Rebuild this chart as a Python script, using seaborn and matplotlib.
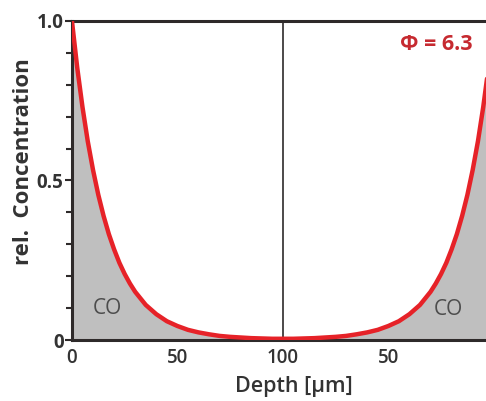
import matplotlib
matplotlib.use("Agg")
import matplotlib.pyplot as plt
import seaborn as sns
import pandas as pd
from matplotlib.ticker import MultipleLocator

# Data (depth across the 200 µm section, relative concentration)
depth = [0, 2.5, 5, 7.5, 10, 12.5, 15, 17.5, 20, 22.5, 25, 27.5, 30, 35, 40, 45, 50,
         55, 60, 65, 70, 75, 80, 85, 90, 95, 100,
         105, 110, 115, 120, 125, 130, 135, 140, 145, 150, 155, 160, 165, 170,
         172.5, 175, 177.5, 180, 182.5, 185, 187.5, 190, 192.5, 195, 197.5, 200]
concentration = [1.0, 0.854, 0.730, 0.623, 0.533, 0.455, 0.389, 0.332, 0.284, 0.242,
                 0.207, 0.177, 0.151, 0.110, 0.081, 0.059, 0.044,
                 0.032, 0.024, 0.018, 0.013, 0.010, 0.008, 0.006, 0.005, 0.004, 0.004,
                 0.004, 0.005, 0.006, 0.008, 0.010, 0.013, 0.018, 0.024, 0.032, 0.044,
                 0.059, 0.081, 0.110, 0.151,
                 0.177, 0.207, 0.242, 0.284, 0.332, 0.389, 0.455, 0.533, 0.623, 0.730,
                 0.854, 1.0]
xtick_pos = [0, 50, 100, 150, 200]
xtick_labels = ["0", "50", "100", "50", "0"]
ytick_pos = [0, 0.5, 1.0]
ytick_labels = ["0", "0.5", "1.0"]
phi_label = "\u03a6 = 6.3"
region_label = "CO"

df = pd.DataFrame({"depth": depth, "conc": concentration})

sns.set_style("white")
plt.rcParams["font.family"] = ["Open Sans", "DejaVu Sans"]

fig = plt.figure(figsize=(4.86, 4.01), dpi=100)
ax = fig.add_axes([0.148, 0.152, 0.868, 0.796])

red = "#e62228"
dark = "#2e2a2a"

ax.fill_between(df["depth"], df["conc"], 0, color="#bfbfbf", linewidth=0, zorder=1)
sns.lineplot(data=df, x="depth", y="conc", ax=ax, color=red, linewidth=3.2,
             zorder=3, sort=False)
ax.axvline(100, ymin=0, ymax=1, color=dark, linewidth=1.2, zorder=2)

ax.set_xlim(0, 200)
ax.set_ylim(0, 1.0)
ax.set_xticks(xtick_pos)
ax.set_xticklabels(xtick_labels)
ax.set_yticks(ytick_pos)
ax.set_yticklabels(ytick_labels)
ax.yaxis.set_minor_locator(MultipleLocator(0.1))

for lab in ax.get_xticklabels():
    lab.set_fontsize(13.5)
    lab.set_fontweight("semibold")
    lab.set_color("#333333")
for lab in ax.get_yticklabels():
    lab.set_fontsize(13.5)
    lab.set_fontweight("bold")
    lab.set_color("#333333")

ax.tick_params(axis="x", which="both", length=0, pad=6)
ax.tick_params(axis="y", which="major", length=5, width=1.5, color=dark, pad=1,
               direction="out", left=True)
ax.tick_params(axis="y", which="minor", length=4, width=1.5, color=dark,
               direction="out", left=True)

for side in ["top", "left", "bottom"]:
    ax.spines[side].set_visible(True)
    ax.spines[side].set_color(dark)
    ax.spines[side].set_linewidth(2.2)
ax.spines["right"].set_visible(False)

ax.set_xlabel("Depth [\u03bcm]", fontsize=15.5, fontweight="semibold", color="#333333")
ax.xaxis.set_label_coords(0.526, -0.112)
ax.set_ylabel("rel.  Concentration", fontsize=16, fontweight="bold", color="#333333")
ax.yaxis.set_label_coords(-0.09, 0.56)

ax.text(190, 0.925, phi_label, color="#c62a30", fontsize=15.5, fontweight="bold",
        ha="right", va="center")
ax.text(17, 0.10, region_label, color="#4d4d4d", fontsize=15, ha="center", va="center")
ax.text(178.7, 0.095, region_label, color="#4d4d4d", fontsize=15, ha="center", va="center")

fig.savefig("out.png", dpi=100)
